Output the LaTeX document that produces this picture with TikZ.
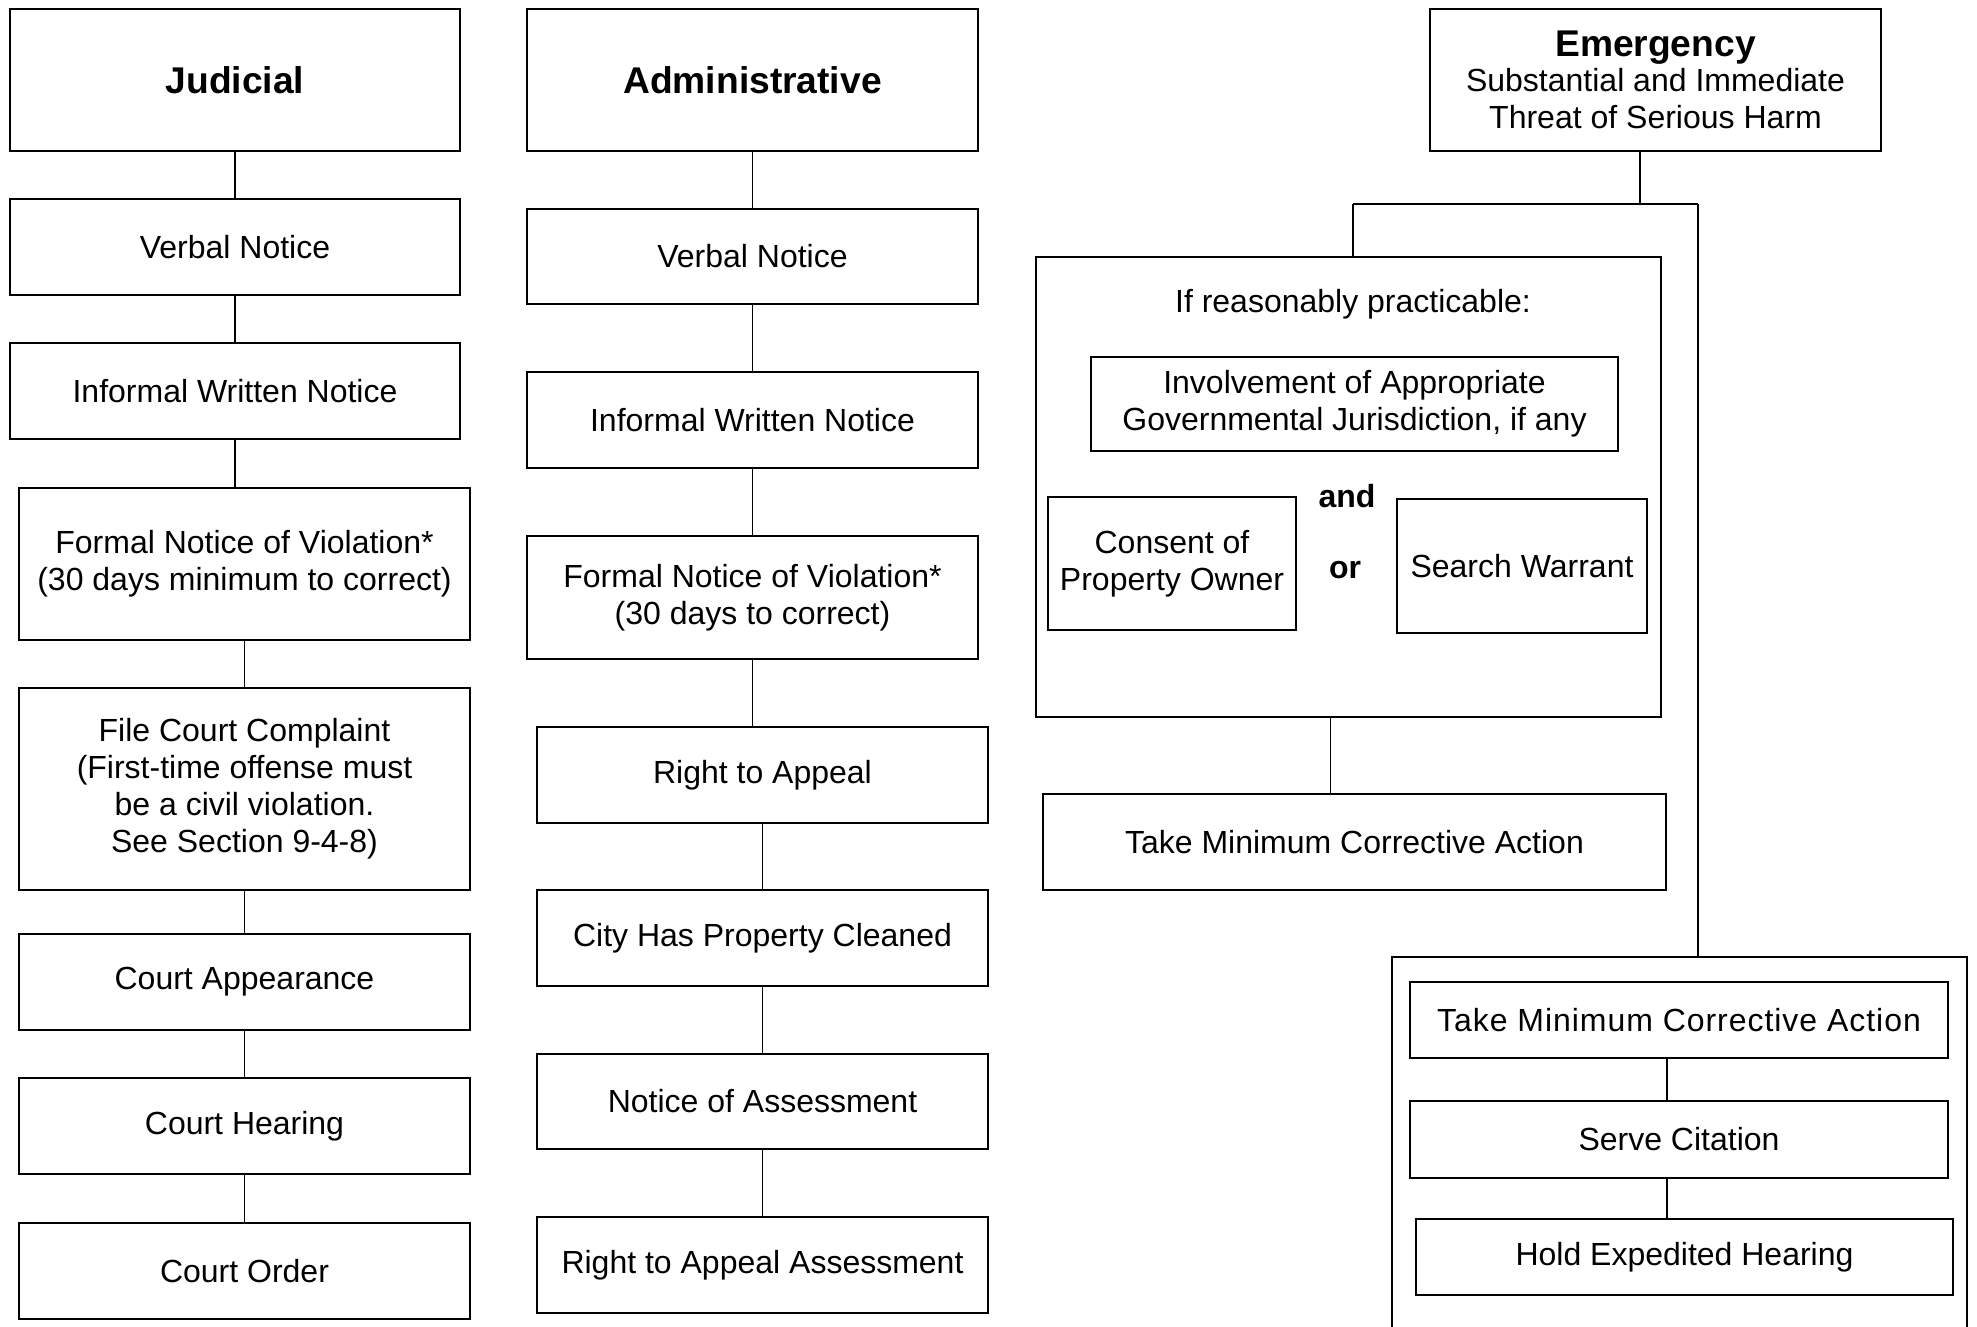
\documentclass[tikz,border=0pt]{standalone}
\usepackage{fontspec}
\setmainfont{Liberation Sans}
\newfontfamily\spacedfont[LetterSpace=3]{Liberation Sans}
% [opts]{name}{x1}{y1}{x2}{y2}{text}
\newcommand\bx[7][]{%
  \pgfmathsetmacro\bxw{(#5-#3)/2}%
  \pgfmathsetmacro\bxh{(#6-#4)/2}%
  \node[box,minimum width=\bxw pt,minimum height=\bxh pt,#1] (#2) at ({(#3+#5)/2},{(#4+#6)/2}) {#7};}
\begin{document}
\begin{tikzpicture}[x=0.5pt,y=-0.5pt,
  box/.style={draw, line width=1pt, inner sep=0pt, align=center, font=\fontsize{16}{18.5}\selectfont},
  title/.style={font=\bfseries\fontsize{18.6}{22}\selectfont},
  frame/.style={line width=0.8pt},
  conn/.style={line width=0.7pt},
  lbl/.style={inner sep=0pt, font=\fontsize{16}{18.5}\selectfont},
  bl/.style={inner sep=0pt, font=\bfseries\fontsize{16}{18.5}\selectfont}]
\useasboundingbox (0,0) rectangle (1977,1327);
% Judicial column
\bx[title]{jud}{10}{9}{460}{151}{Judicial}
\bx{jv}{10}{199}{460}{295}{Verbal Notice}
\bx{jiw}{10}{343}{460}{439}{Informal Written Notice}
\bx{jf}{19}{488}{470}{640}{Formal Notice of Violation*\\(30 days minimum to correct)}
\bx{jc}{19}{688}{470}{890}{File Court Complaint\\(First-time offense must\\be a civil violation.\\See Section 9-4-8)}
\bx{ja}{19}{934}{470}{1030}{Court Appearance}
\bx{jh}{19}{1078}{470}{1174}{Court Hearing}
\bx{jo}{19}{1223}{470}{1319}{Court Order}
% Administrative column
\bx[title]{adm}{527}{9}{978}{151}{Administrative}
\bx{av}{527}{209}{978}{304}{Verbal Notice}
\bx{aiw}{527}{372}{978}{468}{Informal Written Notice}
\bx{af}{527}{536}{978}{659}{Formal Notice of Violation*\\(30 days to correct)}
\bx{ar}{537}{727}{988}{823}{Right to Appeal}
\bx{ac}{537}{890}{988}{986}{City Has Property Cleaned}
\bx{an}{537}{1054}{988}{1149}{Notice of Assessment}
\bx{ara}{537}{1217}{988}{1313}{Right to Appeal Assessment}
% Emergency column
\bx{em}{1430}{9}{1881}{151}{{\bfseries\fontsize{18.6}{22}\selectfont Emergency}\\[-1pt]Substantial and Immediate\\Threat of Serious Harm}
\bx[frame]{big}{1036}{257}{1661}{717}{}
\node[lbl] (irp) at (1353,304) {If reasonably practicable:};
\bx{inv}{1091}{357}{1618}{451}{Involvement of Appropriate\\Governmental Jurisdiction, if any}
\bx{con}{1048}{497}{1296}{630}{Consent of\\Property Owner}
\bx{sw}{1397}{499}{1647}{633}{Search Warrant}
\node[bl] (and) at (1347,496) {and};
\node[bl] (or) at (1345,570) {or};
\bx{tm1}{1043}{794}{1666}{890}{Take Minimum Corrective Action}
\bx[frame]{low}{1392}{957}{1967}{1345}{}
\bx[font=\spacedfont\fontsize{16}{18.5}\selectfont]{tm2}{1410}{982}{1948}{1058}{Take Minimum Corrective Action}
\bx{sc}{1410}{1101}{1948}{1178}{Serve Citation}
\bx{hh}{1416}{1219}{1953}{1295}{Hold Expedited Hearing}
% connectors
\foreach \a/\b in {jud/jv, jv/jiw, jiw/jf, jf/jc, jc/ja, ja/jh, jh/jo,
                   adm/av, av/aiw, aiw/af, af/ar, ar/ac, ac/an, an/ara}
  \draw[conn] (\a.south) -- (\a.south |- \b.north);
\coordinate (split) at (1640,204);
\coordinate (hl) at (1353,204);
\coordinate (hr) at (1698,204);
\draw[conn] ([xshift=-7.75pt]em.south) -- (split);
\draw[conn] (hl) -- (hr);
\draw[conn] (hl) -- (hl |- big.north);
\draw[conn] (hr) -- (hr |- low.north);
\draw[conn] ([xshift=-9pt]big.south) -- ([xshift=-9pt]big.south |- tm1.north);
\draw[conn] ([xshift=-6pt]tm2.south) -- ([xshift=-6pt]tm2.south |- sc.north);
\draw[conn] ([xshift=-6pt]sc.south) -- ([xshift=-6pt]sc.south |- hh.north);
\end{tikzpicture}
\end{document}
